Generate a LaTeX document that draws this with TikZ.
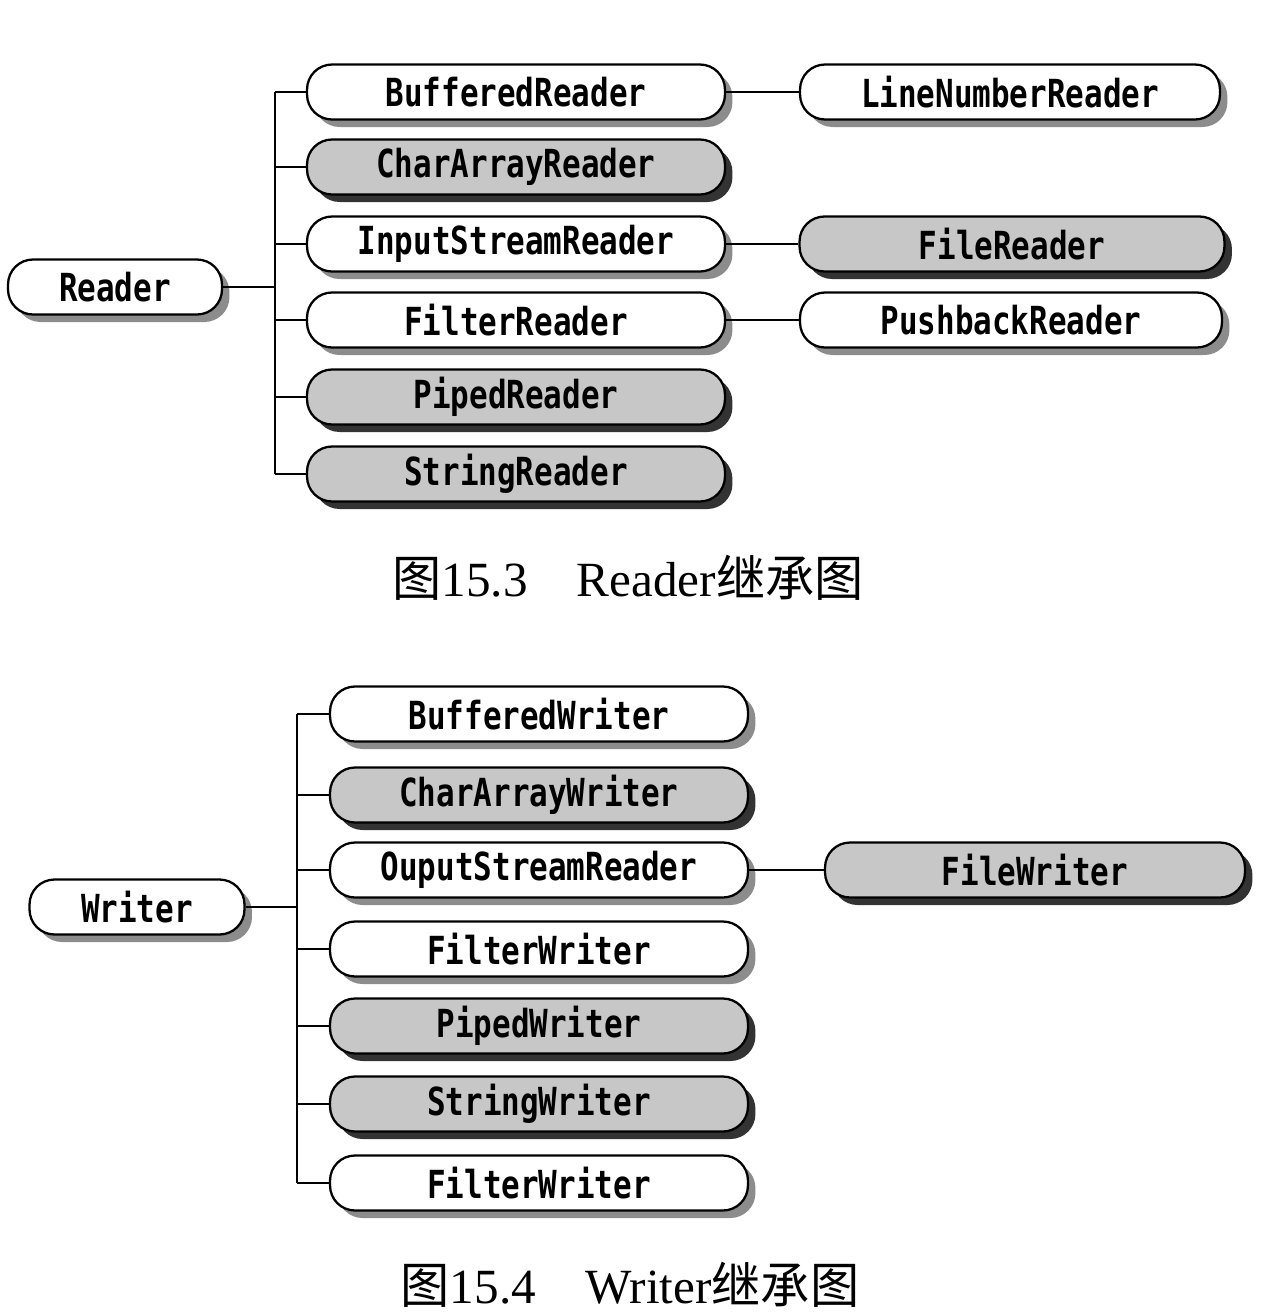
\documentclass[tikz,border=0pt]{standalone}
\usepackage{fontspec}
\setmainfont{Liberation Serif}
\newfontfamily\cjk{Noto Sans CJK SC}
\newfontfamily\boxfont[FakeStretch=0.8]{DejaVu Sans Mono}
\usetikzlibrary{shadows}

\tikzset{
  pill/.style={draw,line width=1.3pt,rounded corners=0.5cm,minimum height=1.1cm,inner sep=0pt,
    font=\boxfont\bfseries\fontsize{22}{24}\selectfont},
  whitebox/.style={pill,fill=white,
    drop shadow={shadow xshift=0.15cm,shadow yshift=-0.15cm,fill=black!45,opacity=1}},
  graybox/.style={pill,fill=black!22,
    drop shadow={shadow xshift=0.15cm,shadow yshift=-0.15cm,fill=black!80,opacity=1}},
  link/.style={line width=1.3pt},
  caption/.style={font=\fontsize{28}{32}\selectfont}
}

\begin{document}
\begin{tikzpicture}[x=0.02cm,y=-0.02cm]
\useasboundingbox (0,0) rectangle (1279,1313);

% Reader tree
\node[whitebox,minimum width=4.28cm] (reader) at (115,287) {Reader};
\coordinate (rtrunk) at (275,287);
\foreach \i/\y/\name/\sty in {1/92/BufferedReader/whitebox, 2/167/CharArrayReader/graybox,
    3/244/InputStreamReader/whitebox, 4/320/FilterReader/whitebox,
    5/397/PipedReader/graybox, 6/474/StringReader/graybox} {
  \node[style=\sty,minimum width=8.36cm] (r\i) at (516,\y) {\name};
  \draw[link] (rtrunk |- r\i.west) -- (r\i.west);
}
\draw[link] (rtrunk |- r1.west) -- (rtrunk |- r6.west);
\draw[link] (reader.east) -- (rtrunk);

\node[whitebox,minimum width=8.4cm] (lnr) at (1010,92) {LineNumberReader};
\node[graybox,minimum width=8.5cm] (fr) at (1012,244) {FileReader};
\node[whitebox,minimum width=8.44cm] (pbr) at (1011,320) {PushbackReader};
\draw[link] (r1.east) -- (lnr.west);
\draw[link] (r3.east) -- (fr.west);
\draw[link] (r4.east) -- (pbr.west);

\node[caption] (cap1) at (628,578) {{\cjk 图}15.3\hspace{1em}Reader{\cjk 继承图}};

% Writer tree
\node[whitebox,minimum width=4.3cm] (writer) at (137,907) {Writer};
\coordinate (wtrunk) at (297,907);
\foreach \i/\y/\name/\sty in {1/714/BufferedWriter/whitebox, 2/795/CharArrayWriter/graybox,
    3/870/OuputStreamReader/whitebox, 4/949/FilterWriter/whitebox,
    5/1026/PipedWriter/graybox, 6/1104/StringWriter/graybox, 7/1183/FilterWriter/whitebox} {
  \node[style=\sty,minimum width=8.36cm] (w\i) at (539,\y) {\name};
  \draw[link] (wtrunk |- w\i.west) -- (w\i.west);
}
\draw[link] (wtrunk |- w1.west) -- (wtrunk |- w7.west);
\draw[link] (writer.east) -- (wtrunk);

\node[graybox,minimum width=8.4cm] (fw) at (1035,870) {FileWriter};
\draw[link] (w3.east) -- (fw.west);

\node[caption] (cap2) at (630,1285) {{\cjk 图}15.4\hspace{1em}Writer{\cjk 继承图}};
\end{tikzpicture}
\end{document}
